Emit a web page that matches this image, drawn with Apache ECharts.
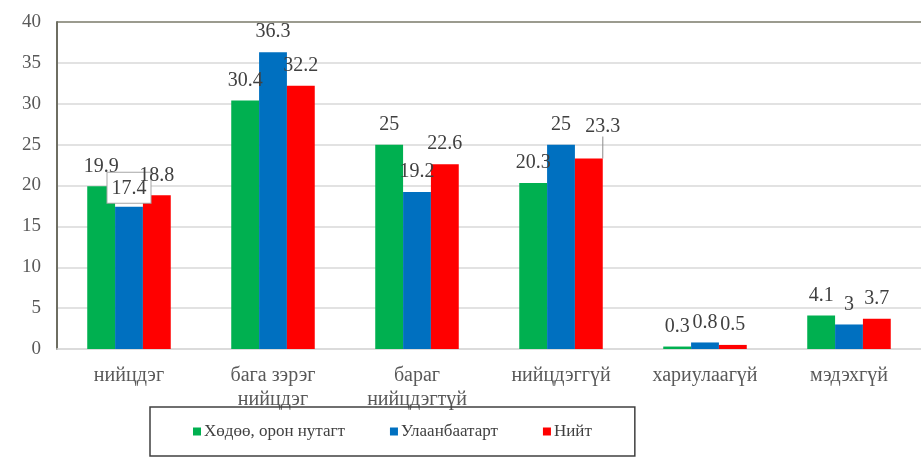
<!DOCTYPE html>
<html>
<head>
<meta charset="utf-8">
<script src="https://cdn.jsdelivr.net/npm/echarts@6/dist/echarts.min.js"></script>
<style>
html,body{margin:0;padding:0;background:#fff;}
#chart{width:921px;height:461px;}
</style>
</head>
<body>
<div id="chart"></div>
<script>
var categories = ["нийцдэг", "бага зэрэг\nнийцдэг", "бараг\nнийцдэгтүй", "нийцдэггүй", "хариулаагүй", "мэдэхгүй"];
var seriesNames = ["Хөдөө, орон нутагт", "Улаанбаатарт", "Нийт"];
var rural = [19.9, 30.4, 25, 20.3, 0.3, 4.1];
var ulaanbaatar = [17.4, 36.3, 19.2, 25, 0.8, 3];
var total = [18.8, 32.2, 22.6, 23.3, 0.5, 3.7];
var colors = ["#00B050", "#0070C0", "#FF0000"];

var font = "'Liberation Serif', 'DejaVu Serif', serif";

var chart = echarts.init(document.getElementById('chart'));

function makeSeries(name, values, color, idx){
    var data = [];
    for(var i=0;i<values.length;i++){
        var item = {value: values[i]};
        // 17.4 label sits in a white box in the original
        if(idx===1 && i===0){
            item.label = {backgroundColor:"#fff", borderColor:"#a6a6a6", borderWidth:1, padding:[6,4,4,4], distance:4};
        }
        if(idx===2 && i===3){
            item.labelLine = {show:true, lineStyle:{color:"#8c8c8c", width:1}};
        }
        data.push(item);
    }
    return {
        name: name,
        type: 'bar',
        barGap: '0%',
        barCategoryGap: '42%',
        itemStyle: {color: color},
        label: {
            show: true,
            position: 'top',
            distance: 10,
            color: '#404040',
            fontFamily: font,
            fontSize: 20
        },
        labelLayout: function(p){
            if(p.seriesIndex===2 && p.dataIndex===3){
                return {dx: 14, dy: -12};
            }
        },
        data: data
    };
}

var option = {
    backgroundColor: '#fff',
    animation: false,
    grid: {left: 57, right: -2, top: 22, bottom: 112},
    legend: {
        bottom: 5,
        left: 150,
        width: 487,
        padding: [16, 43, 16, 43],
        itemGap: 45,
        itemWidth: 8,
        itemHeight: 8,
        icon: 'rect',
        borderColor: '#404040',
        borderWidth: 1.5,
        textStyle: {fontFamily: font, fontSize: 17, color: '#404040', padding:[0,0,0,-2]},
        data: seriesNames
    },
    xAxis: {
        type: 'category',
        data: categories,
        axisTick: {show: false},
        axisLine: {lineStyle: {color: '#d9d9d9', width: 1.5}},
        axisLabel: {fontFamily: font, fontSize: 20, color: '#595959', margin: 15, lineHeight: 24, interval: 0}
    },
    yAxis: {
        type: 'value',
        min: 0,
        max: 40,
        interval: 5,
        axisLine: {show: true, lineStyle: {color: '#6e6e62', width: 2}},
        axisTick: {show: false},
        splitLine: {lineStyle: {color: ['#d9d9d9','#d9d9d9','#d9d9d9','#d9d9d9','#d9d9d9','#d9d9d9','#d9d9d9','#d9d9d9','#7a7a6a'], width: 1.5}},
        axisLabel: {fontFamily: font, fontSize: 19, color: '#595959', margin: 16}
    },
    series: [
        makeSeries(seriesNames[0], rural, colors[0], 0),
        makeSeries(seriesNames[1], ulaanbaatar, colors[1], 1),
        makeSeries(seriesNames[2], total, colors[2], 2)
    ]
};
chart.setOption(option);
</script>
</body>
</html>
